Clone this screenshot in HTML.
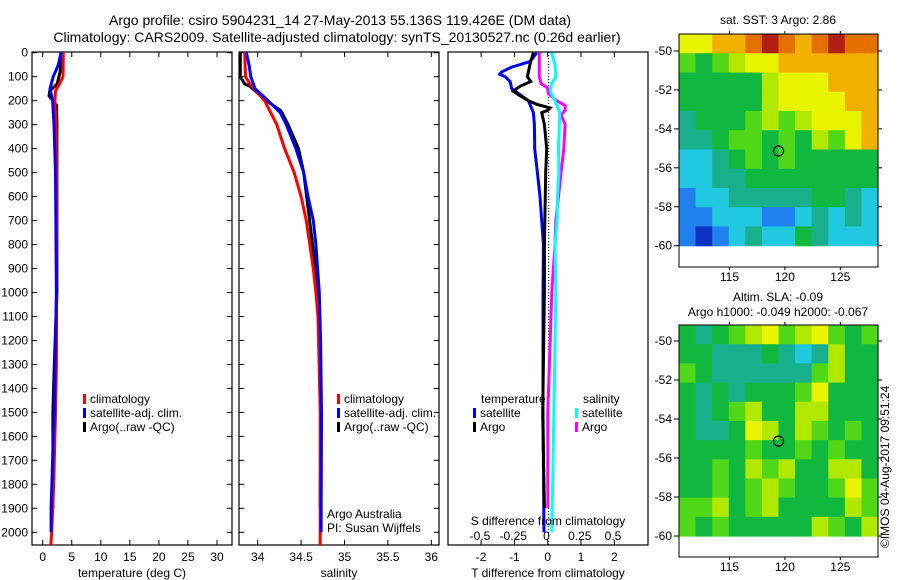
<!DOCTYPE html>
<html><head><meta charset="utf-8"><style>
body{margin:0;background:#fff}
svg{display:block;font-family:"Liberation Sans",sans-serif}
text{fill:#000}
</style></head><body>
<svg id="c" width="900" height="580" viewBox="0 0 900 580" xmlns="http://www.w3.org/2000/svg">
<text x="340" y="25" font-size="14" text-anchor="middle">Argo profile: csiro 5904231_14 27-May-2013 55.136S 119.426E (DM data)</text>
<text x="337" y="42" font-size="14" text-anchor="middle">Climatology: CARS2009. Satellite-adjusted climatology: synTS_20130527.nc (0.26d earlier)</text>
<text x="778" y="24" font-size="12" text-anchor="middle">sat. SST: 3 Argo: 2.86</text>
<text x="778" y="301" font-size="12" text-anchor="middle">Altim. SLA: -0.09</text>
<text x="778" y="316" font-size="12" text-anchor="middle">Argo h1000: -0.049 h2000: -0.067</text>
<text transform="translate(889,548) rotate(-90)" font-size="12">©IMOS 04-Aug-2017 09:51:24</text>
<defs>
<clipPath id="cp1"><rect x="32" y="52" width="200" height="493"/></clipPath>
<clipPath id="cp2"><rect x="239" y="52" width="200" height="493"/></clipPath>
<clipPath id="cp3"><rect x="448" y="52" width="200" height="493"/></clipPath>
</defs>
<g id="g"></g>
</svg>
<script>
// ---- data ----
const depthTicks=[0,100,200,300,400,500,600,700,800,900,1000,1100,1200,1300,1400,1500,1600,1700,1800,1900,2000];
const tempTicks=[0,5,10,15,20,25,30];
const salTicks=[34,34.5,35,35.5,36];
const salTickLabels=["34","34.5","35","35.5","36"];
const tdTicks=[-2,-1,0,1,2];
const sdTicks=[-0.5,-0.25,0,0.25,0.5];
const sdTickLabels=["-0.5","-0.25","0","0.25","0.5"];
const latTicks=[-50,-52,-54,-56,-58,-60];
const lonTicks=[115,120,125];

const tClimD=[0,100,130,160,200,300,500,1000,1300,1500,1800,2000,2055];
const tClimV=[3.55,3.5,2.9,2.2,2.1,2.3,2.4,2.4,2.35,2.2,1.9,1.55,1.4];
const tSatD=[0,50,100,150,200,300,500,1000,1500,1700,1900,2000];
const tSatV=[3.15,2.7,1.8,1.25,1.7,1.95,2.2,2.35,2.0,1.7,1.45,1.45];
const tArgD=[0,80,130,160,180,220,300,500,1000,1300,1500,1700,1900];
const tArgV=[3.25,3.0,2.5,1.2,1.1,2.4,2.45,2.45,2.45,2.0,1.75,1.75,1.75];

const sClimD=[0,100,130,200,300,400,500,600,700,800,900,1000,1100,1500,2000,2055];
const sClimV=[33.85,33.86,33.91,34.08,34.22,34.31,34.42,34.5,34.56,34.6,34.64,34.67,34.695,34.72,34.72,34.72];
const sSatD=[0,50,100,150,200,250,300,400,500,600,700,800,900,1000,1200,1500,2000];
const sSatV=[33.87,33.9,33.92,33.97,34.12,34.26,34.33,34.44,34.53,34.58,34.64,34.67,34.69,34.71,34.725,34.735,34.73];
const sArgD=[0,100,130,140,200,240,250,300,400,500,1000,1500,1900];
const sArgV=[33.8,33.8,33.85,33.91,34.1,34.26,34.28,34.35,34.47,34.53,34.7,34.725,34.72];

const dtSatD=[0,37,60,80,90,100,120,150,180,200,250,300,400,500,600,700,800,1000,1500,2000];
const dtSatV=[-0.33,-0.53,-1.08,-1.38,-1.44,-1.28,-1.13,-1.08,-0.78,-0.58,-0.43,-0.4,-0.39,-0.31,-0.23,-0.18,-0.13,-0.14,-0.14,-0.11];
const dtArgD=[0,30,60,100,120,140,160,180,200,215,230,240,250,300,400,500,800,1000,1500,1900];
const dtArgV=[-0.43,-0.5,-0.55,-0.61,-0.51,-0.83,-1.04,-0.83,-0.58,-0.33,0.07,0.0,-0.18,-0.1,-0.03,-0.06,-0.1,-0.1,-0.15,-0.1];
const dsSatD=[0,50,100,130,160,200,250,300,400,500,600,700,800,1000,1500,2000];
const dsSatV=[0.039,0.064,0.07,0.039,0.027,0.064,0.1,0.097,0.09,0.093,0.083,0.08,0.064,0.07,0.056,0.04];
const dsArgD=[0,100,130,145,170,200,220,240,260,300,400,500,600,700,800,1000,1500,1900];
const dsArgV=[-0.054,-0.054,-0.04,0.006,0.014,0.076,0.14,0.14,0.11,0.14,0.13,0.11,0.09,0.07,0.064,0.04,0.01,0.01];

const sstGrid=[
[7,7,8,8,9,10,9,8,9,10,9,9],
[5,4,5,6,7,7,8,8,8,8,8,8],
[4,4,4,4,4,6,7,7,7,8,8,8],
[4,4,4,4,4,6,7,7,7,7,8,8],
[3,4,4,4,5,6,5,6,7,7,7,8],
[3,3,4,5,5,4,5,4,6,5,7,8],
[2,2,3,4,5,4,5,4,4,4,4,4],
[2,2,3,3,4,4,4,4,4,4,4,4],
[1,2,2,3,3,3,3,3,4,4,3,2],
[1,1,2,2,2,1,1,2,3,2,3,2],
[1,0,1,2,3,2,2,4,3,2,2,2]];
const slaGrid=[
[4,3,4,5,6,7,5,6,7,5,4,5],
[4,4,3,3,3,4,3,2,3,6,4,4],
[5,4,3,3,3,3,3,3,5,6,4,4],
[4,3,4,3,4,4,4,5,7,4,4,4],
[4,3,4,5,6,4,4,6,6,4,4,4],
[4,3,3,4,7,6,4,6,5,4,5,4],
[4,4,4,4,5,4,4,5,4,5,4,4],
[4,4,5,4,6,5,6,4,4,6,6,4],
[4,4,5,4,5,6,5,4,4,5,7,5],
[5,5,6,4,5,6,4,4,4,4,6,5],
[5,4,5,4,4,4,4,4,6,5,4,6]];
const argoLon=119.426, argoLat=-55.136;

// ---- helpers ----
const NS="http://www.w3.org/2000/svg";
const G=document.getElementById('g');
function mk(tag,attrs,parent){const e=document.createElementNS(NS,tag);for(const k in attrs)e.setAttribute(k,attrs[k]);(parent||G).appendChild(e);return e;}
const ly=d=>52.7+d*0.2398;
const xT=v=>42.7+v*5.81;
const xS=v=>257.7+(v-34)*86.8;
const xDT=v=>547.7+v*33.3;
const xDS=v=>546.5+v*133;
const LON0=110.45, LON1=128.4;
const lonX=l=>679+(l-LON0)/(LON1-LON0)*199;
const latY1=l=>51+(-50-l)*19.47;
const latY2=l=>341+(-50-l)*19.5;

function line(x1,y1,x2,y2,name){const e=mk('line',{x1,y1,x2,y2,stroke:'#000','stroke-width':1});

return e;}
function txt(x,y,s,size,anchor,name){const e=mk('text',{x,y,'font-size':size,'text-anchor':anchor||'start'});e.textContent=s;

return e;}

function panel(x0,name){
  const r=mk('rect',{x:x0,y:52,width:200,height:493,fill:'none',stroke:'#000','stroke-width':1.2});
  
  
  depthTicks.forEach(d=>{line(x0,ly(d),x0+5,ly(d),'depth-tick');line(x0+200,ly(d),x0+195,ly(d),'depth-tick');});
}
function xticks(vals,fx,labels,name){
  vals.forEach((v,i)=>{const x=fx(v);line(x,52,x,57,'x-tick');line(x,545,x,540,'x-tick');
    txt(x,561,labels?labels[i]:String(v),12,'middle',name);});
}
function prof(D,V,fx,color,clip,name){
  const pts=D.map((d,i)=>fx(V[i]).toFixed(1)+','+ly(d).toFixed(1)).join(' ');
  const e=mk('polyline',{points:pts,fill:'none',stroke:color,'stroke-width':3,'clip-path':'url(#'+clip+')'});
  
  
}
function legend(x,y,color,label,name){
  const r=mk('rect',{x:x,y:y-5,width:3,height:10,fill:color});
  
  
  txt(x+7,y+4,label,12,'start',name);
}

// panel 1 temperature
panel(32,'temperature-panel');
depthTicks.forEach(d=>txt(28,ly(d)+4,String(d),12,'end','depth-label'));
xticks(tempTicks,xT,null,'temperature-tick-label');
txt(132,577,'temperature (deg C)',12,'middle','temperature-axis-title');
prof(tArgD,tArgV,xT,'#000000','cp1','temp-argo-line');
prof(tClimD,tClimV,xT,'#ff0000','cp1','temp-climatology-line');
prof(tSatD,tSatV,xT,'#0000ff','cp1','temp-satellite-line');
legend(83,399,'#ff0000','climatology','legend-climatology');
legend(83,413,'#0000ff','satellite-adj. clim.','legend-satellite-adj');
legend(83,427,'#000000','Argo(..raw -QC)','legend-argo');

// panel 2 salinity
panel(239,'salinity-panel');
xticks(salTicks,xS,salTickLabels,'salinity-tick-label');
txt(339,577,'salinity',12,'middle','salinity-axis-title');
prof(sArgD,sArgV,xS,'#000000','cp2','sal-argo-line');
prof(sClimD,sClimV,xS,'#ff0000','cp2','sal-climatology-line');
prof(sSatD,sSatV,xS,'#0000ff','cp2','sal-satellite-line');
legend(337,399,'#ff0000','climatology','legend2-climatology');
legend(337,413,'#0000ff','satellite-adj. clim.','legend2-satellite-adj');
legend(337,427,'#000000','Argo(..raw -QC)','legend2-argo');
txt(327,518,'Argo Australia',12,'start','credit-argo-australia');
txt(327,532,'PI: Susan Wijffels',12,'start','credit-pi');

// panel 3 differences
const r3=mk('rect',{x:448,y:52,width:200,height:493,fill:'none',stroke:'#000','stroke-width':1.2});


tdTicks.forEach(v=>{const x=xDT(v);line(x,52,x,57,'t-diff-tick');line(x,545,x,540,'t-diff-tick');txt(x,561,String(v),12,'middle','t-diff-tick-label');});
sdTicks.forEach((v,i)=>txt(xDS(v),540,sdTickLabels[i],12,'middle','s-diff-tick-label'));
const zl=mk('line',{x1:xDT(0)+1,y1:52,x2:xDT(0)+1,y2:545,stroke:'#000','stroke-width':1,'stroke-dasharray':'1,2'});


prof(dtSatD,dtSatV,xDT,'#0000ff','cp3','t-diff-satellite-line');
prof(dtArgD,dtArgV,xDT,'#000000','cp3','t-diff-argo-line');
prof(dsArgD,dsArgV,xDS,'#ff00ff','cp3','s-diff-argo-line');
prof(dsSatD,dsSatV,xDS,'#00ffff','cp3','s-diff-satellite-line');
txt(481,403,'temperature',12,'start','legend-temperature-header');
legend(473,413,'#0000ff','satellite','legend-t-satellite');
legend(473,427,'#000000','Argo','legend-t-argo');
txt(583,403,'salinity',12,'start','legend-salinity-header');
legend(575,413,'#00ffff','satellite','legend-s-satellite');
legend(575,427,'#ff00ff','Argo','legend-s-argo');
txt(548,525,'S difference from climatology',12,'middle','s-diff-axis-title');
txt(548,577,'T difference from climatology',12,'middle','t-diff-axis-title');

// maps
const stops=[[0,[16,48,192]],[1,[32,128,240]],[2,[32,200,224]],[3,[24,176,140]],[4,[16,184,64]],[5,[80,216,24]],[6,[176,232,0]],[7,[232,244,0]],[8,[244,176,0]],[9,[228,112,0]],[10,[176,32,16]]];
function col(v){for(let i=0;i<stops.length-1;i++){if(v<=stops[i+1][0]){const t=(v-stops[i][0])/(stops[i+1][0]-stops[i][0]);const a=stops[i][1],b=stops[i+1][1];return 'rgb('+a.map((c,k)=>Math.round(c+(b[k]-c)*t)).join(',')+')';}}return 'rgb(176,32,16)';}
function map(grid,latTop,fy,boxTop,boxBot,name){
  const rows=grid.length, cols=grid[0].length;
  const dLat=(latTop-(-60))/rows, dLon=(LON1-LON0)/cols;
  grid.forEach((row,r)=>row.forEach((v,c)=>{
    const x0=lonX(LON0+c*dLon), x1=lonX(LON0+(c+1)*dLon);
    const y0=fy(latTop-r*dLat), y1=fy(latTop-(r+1)*dLat);
    const e=mk('rect',{x:x0.toFixed(2),y:y0.toFixed(2),width:(x1-x0+0.6).toFixed(2),height:(y1-y0+0.6).toFixed(2),fill:col(v)});
    
    
  }));
  const b=mk('rect',{x:679,y:boxTop,width:199,height:boxBot-boxTop,fill:'none',stroke:'#000','stroke-width':1});
  
  
  latTicks.forEach(l=>{const y=fy(l);line(674,y,679,y,'lat-tick');line(878,y,882,y,'lat-tick');txt(672,y+4,String(l),12,'end',name+'-lat-label');});
  lonTicks.forEach(l=>{const x=lonX(l);line(x,boxTop,x,boxTop-3,'lon-tick');line(x,boxBot,x,boxBot+3,'lon-tick');txt(x,boxBot+14,String(l),12,'middle',name+'-lon-label');});
  const c=mk('circle',{cx:lonX(argoLon),cy:fy(argoLat),r:5,fill:'none',stroke:'#000','stroke-width':1.2});
  
  
}
map(sstGrid,-49.13,latY1,34,267,'sst-map');
map(slaGrid,-49.18,latY2,325,557,'sla-map');
</script>
</body></html>
